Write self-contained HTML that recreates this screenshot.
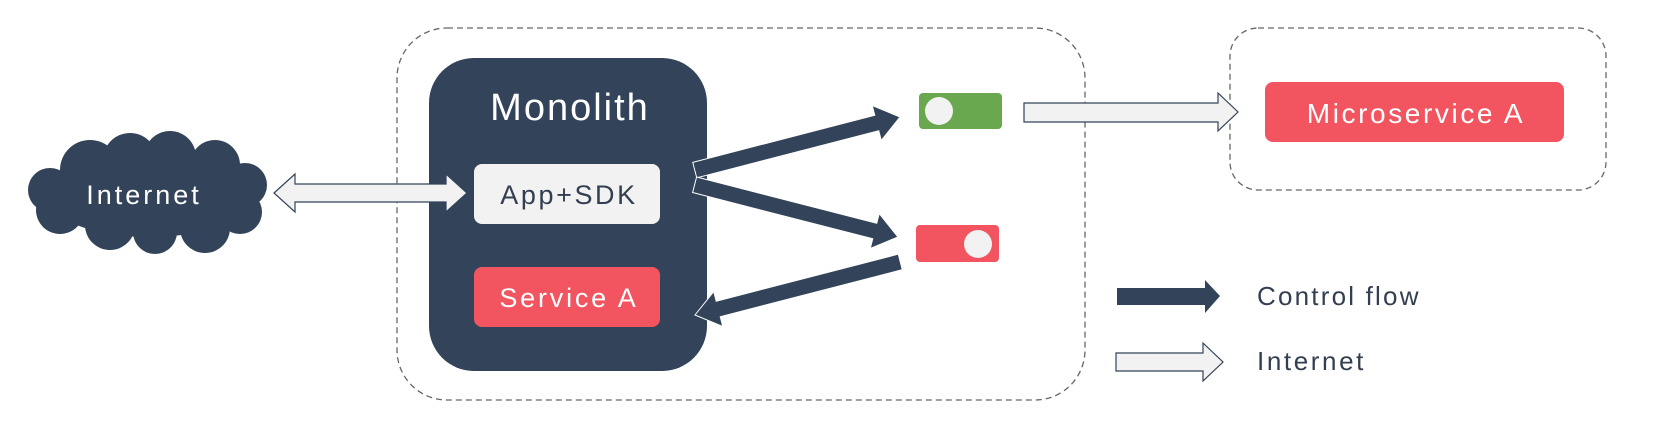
<!DOCTYPE html>
<html><head><meta charset="utf-8"><style>
html,body{margin:0;padding:0;background:#fff;}
svg{display:block;}
text{font-family:"Liberation Sans",sans-serif;}
</style></head><body>
<svg width="1671" height="425" viewBox="0 0 1671 425" xmlns="http://www.w3.org/2000/svg">
<rect x="397" y="28" width="688" height="372" rx="50" fill="none" stroke="#666" stroke-width="1.3" stroke-dasharray="6,4"/>
<rect x="1230" y="28" width="376" height="162" rx="28" fill="none" stroke="#666" stroke-width="1.3" stroke-dasharray="6,4"/>
<rect x="429" y="58" width="278" height="313" rx="45" fill="#334359"/>
<text x="570" y="120" font-size="38" fill="#fff" text-anchor="middle" letter-spacing="2">Monolith</text>
<rect x="474" y="164" width="186" height="60" rx="8" fill="#f2f2f2"/>
<text x="569" y="204" font-size="27" fill="#333f50" text-anchor="middle" letter-spacing="2.6">App+SDK</text>
<rect x="474" y="267" width="186" height="60" rx="8" fill="#f25560"/>
<text x="569" y="307" font-size="27" fill="#fff" text-anchor="middle" letter-spacing="2.8">Service A</text>
<!-- cloud -->
<g fill="#334359">
<ellipse cx="150" cy="195" rx="105" ry="42"/>
<circle cx="90" cy="170" r="30"/><circle cx="130" cy="160" r="27"/><circle cx="170" cy="157" r="26"/><circle cx="215" cy="165" r="25"/>
<circle cx="245" cy="185" r="22"/><circle cx="240" cy="212" r="22"/><circle cx="205" cy="228" r="25"/>
<circle cx="155" cy="232" r="22"/><circle cx="110" cy="225" r="25"/><circle cx="60" cy="210" r="24"/><circle cx="50" cy="190" r="22"/>
</g>
<text x="144" y="204" font-size="27" fill="#fff" text-anchor="middle" letter-spacing="3">Internet</text>
<!-- double arrow -->
<polygon points="274,193 295,174 295,184 446,184 446,174 467,193 446,212 446,202 295,202 295,212" fill="#f2f2f2" stroke="#334359" stroke-width="1.2"/>
<!-- control arrows -->
<g fill="#334359" stroke="#fff" stroke-width="1">
<polygon transform="translate(900,117) rotate(-14.5)" points="0,0 -24,-18 -24,-8 -212,-8 -212,8 -24,8 -24,18"/>
<polygon transform="translate(898,237) rotate(14.4)" points="0,0 -24,-18 -24,-8 -210,-8 -210,8 -24,8 -24,18"/>
<polygon transform="translate(695,315) rotate(165.5)" points="0,0 -24,-18 -24,-8 -212,-8 -212,8 -24,8 -24,18"/>
</g>
<!-- toggles -->
<rect x="919" y="93" width="83" height="36" rx="4" fill="#6aa84f"/>
<circle cx="939" cy="111" r="14" fill="#f2f2f2"/>
<rect x="916" y="225" width="83" height="37" rx="4" fill="#f25560"/>
<circle cx="978" cy="244" r="14" fill="#f2f2f2"/>
<!-- internet arrow -->
<polygon points="1024,103 1218,103 1218,93 1238,112 1218,131 1218,122 1024,122" fill="#f2f2f2" stroke="#334359" stroke-width="1.2"/>
<rect x="1265" y="82" width="299" height="60" rx="8" fill="#f25560"/>
<text x="1416" y="123" font-size="28" fill="#fff" text-anchor="middle" letter-spacing="2.6">Microservice A</text>
<!-- legend -->
<polygon points="1117,288 1205,288 1205,280 1220,296 1205,313 1205,305 1117,305" fill="#334359"/>
<text x="1257" y="305" font-size="26" fill="#333f50" letter-spacing="2.2">Control flow</text>
<polygon points="1116,353 1203,353 1203,343 1223,362 1203,381 1203,371 1116,371" fill="#f2f2f2" stroke="#334359" stroke-width="1.2"/>
<text x="1257" y="370" font-size="26" fill="#333f50" letter-spacing="2.6">Internet</text>
</svg>
</body></html>
